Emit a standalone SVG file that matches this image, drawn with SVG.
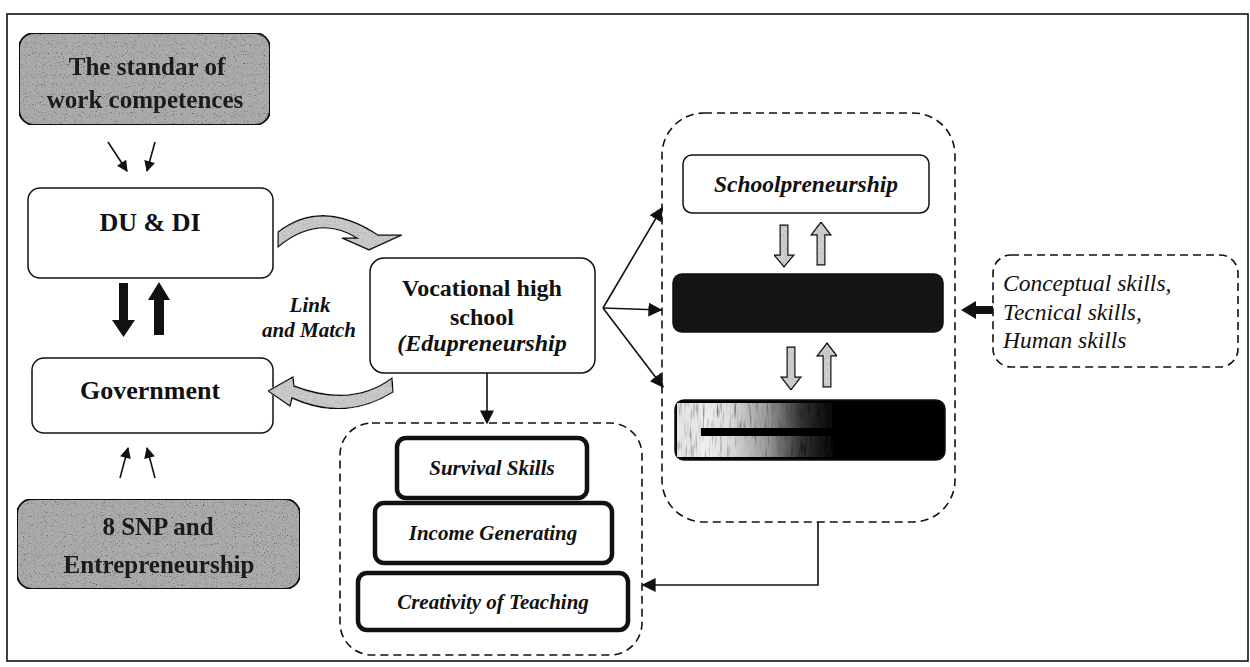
<svg xmlns="http://www.w3.org/2000/svg" width="1250" height="667" viewBox="0 0 1250 667">
  <style>
    .box { fill: #ffffff; stroke: #111; stroke-width: 1.5; }
    .thick { fill: #ffffff; stroke: #111; stroke-width: 4.5; }
    .dash { fill: none; stroke: #111; stroke-width: 1.6; stroke-dasharray: 8 5; }
    .lbl { font-family: "Liberation Serif", "Times New Roman", serif; fill: #111; text-anchor: middle; }
    .start { text-anchor: start; }
    .b { font-weight: bold; }
    .bi { font-weight: bold; font-style: italic; }
    .i { font-style: italic; }
    .conn { fill: none; stroke: #111; stroke-width: 1.6; }
    .solid { fill: #111; stroke: none; }
    .hollow { fill: #d2d2d2; stroke: #111; stroke-width: 1.4; }
    .curve { fill: #cdcdcd; stroke: #111; stroke-width: 1.4; }
    .shade { fill: #ababab; stroke: #111; stroke-width: 2; }
    .shadetext { fill: #1a1a1a; }
  </style>
  <defs>
    <marker id="tri" viewBox="0 0 10 10" refX="9" refY="5" markerWidth="12" markerHeight="11" markerUnits="userSpaceOnUse" orient="auto">
      <path d="M0,0 L10,5 L0,10 Z" fill="#111"/>
    </marker>
    <marker id="triL" viewBox="0 0 10 10" refX="9" refY="5" markerWidth="14" markerHeight="14" markerUnits="userSpaceOnUse" orient="auto">
      <path d="M0,0 L10,5 L0,10 Z" fill="#111"/>
    </marker>
    <!-- heavy speckle for the shaded boxes -->
    <filter id="grain" x="0" y="0" width="100%" height="100%">
      <feTurbulence type="fractalNoise" baseFrequency="0.9" numOctaves="2" seed="4" result="t"/>
      <feColorMatrix in="t" type="matrix" values="0.33 0.33 0.33 0 0  0.33 0.33 0.33 0 0  0.33 0.33 0.33 0 0  0 0 0 0 1" result="g"/>
      <feComponentTransfer in="g" result="c">
        <feFuncR type="linear" slope="3.8" intercept="-0.75"/>
        <feFuncG type="linear" slope="3.8" intercept="-0.75"/>
        <feFuncB type="linear" slope="3.8" intercept="-0.75"/>
      </feComponentTransfer>
      <feComposite in="c" in2="SourceAlpha" operator="in" result="m"/>
      <feBlend in="m" in2="SourceGraphic" mode="multiply"/>
    </filter>
    <!-- light stipple for the grey arrows -->
    <filter id="stipple" x="0" y="0" width="100%" height="100%">
      <feTurbulence type="fractalNoise" baseFrequency="1.1" numOctaves="1" seed="9" result="t"/>
      <feColorMatrix in="t" type="matrix" values="0.33 0.33 0.33 0 0  0.33 0.33 0.33 0 0  0.33 0.33 0.33 0 0  0 0 0 0 1" result="g"/>
      <feComponentTransfer in="g" result="c">
        <feFuncR type="linear" slope="1.6" intercept="0.15"/>
        <feFuncG type="linear" slope="1.6" intercept="0.15"/>
        <feFuncB type="linear" slope="1.6" intercept="0.15"/>
      </feComponentTransfer>
      <feComposite in="c" in2="SourceAlpha" operator="in" result="m"/>
      <feBlend in="m" in2="SourceGraphic" mode="multiply"/>
    </filter>
    <!-- vertical streak texture -->
    <filter id="streak" x="0" y="0" width="100%" height="100%">
      <feTurbulence type="fractalNoise" baseFrequency="0.4 0.05" numOctaves="2" seed="7" result="t"/>
      <feColorMatrix in="t" type="matrix" values="0.33 0.33 0.33 0 0  0.33 0.33 0.33 0 0  0.33 0.33 0.33 0 0  0 0 0 0 1" result="g"/>
      <feComponentTransfer in="g" result="c">
        <feFuncR type="linear" slope="3.4" intercept="-0.7"/>
        <feFuncG type="linear" slope="3.4" intercept="-0.7"/>
        <feFuncB type="linear" slope="3.4" intercept="-0.7"/>
      </feComponentTransfer>
      <feComposite in="c" in2="SourceAlpha" operator="in" result="m"/>
      <feBlend in="m" in2="SourceGraphic" mode="multiply"/>
    </filter>
    <filter id="soft" x="-5%" y="-20%" width="110%" height="140%">
      <feGaussianBlur stdDeviation="0.7"/>
    </filter>
    <linearGradient id="fade" x1="0" y1="0" x2="1" y2="0">
      <stop offset="0" stop-color="#ffffff"/>
      <stop offset="0.25" stop-color="#e0e0e0"/>
      <stop offset="0.45" stop-color="#9a9a9a"/>
      <stop offset="0.62" stop-color="#333"/>
      <stop offset="0.8" stop-color="#000"/>
      <stop offset="1" stop-color="#000"/>
    </linearGradient>
  </defs>

  <rect width="1250" height="667" fill="#ffffff"/>
  <!-- outer frame -->
  <rect x="7" y="14" width="1241" height="647" fill="none" stroke="#111" stroke-width="1.6"/>

  <!-- nodes -->
  <g id="n-standard">
    <g filter="url(#grain)">
      <rect class="shade" x="19" y="33" width="251" height="92" rx="15"/>
      <g filter="url(#soft)">
        <text class="lbl b shadetext" x="147" y="75" font-size="25">The standar of</text>
        <text class="lbl b shadetext" x="145" y="108" font-size="25">work competences</text>
      </g>
    </g>
  </g>

  <g id="n-dudi">
    <rect class="box" x="28" y="188" width="245" height="90" rx="12"/>
    <text class="lbl b" x="150" y="231" font-size="26">DU &amp; DI</text>
  </g>

  <g id="n-government">
    <rect class="box" x="32" y="358" width="241" height="75" rx="12"/>
    <text class="lbl b" x="150" y="399" font-size="26">Government</text>
  </g>

  <g id="n-snp">
    <g filter="url(#grain)">
      <rect class="shade" x="17" y="499" width="283" height="90" rx="15"/>
      <g filter="url(#soft)">
        <text class="lbl b shadetext" x="158" y="535" font-size="25">8 SNP and</text>
        <text class="lbl b shadetext" x="159" y="573" font-size="25">Entrepreneurship</text>
      </g>
    </g>
  </g>

  <g id="n-linkmatch">
    <text class="lbl bi" x="310" y="312" font-size="21">Link</text>
    <text class="lbl bi" x="309" y="337" font-size="21">and Match</text>
  </g>

  <g id="n-vocational">
    <rect class="box" x="370" y="258" width="225" height="115" rx="14"/>
    <text class="lbl b" x="482" y="296" font-size="24">Vocational high</text>
    <text class="lbl b" x="482" y="325" font-size="24">school</text>
    <text class="lbl bi" x="482" y="351" font-size="24">(Edupreneurship</text>
  </g>

  <g id="n-skills">
    <rect class="dash" x="340" y="423" width="302" height="232" rx="32"/>
    <rect class="thick" x="397" y="438" width="190" height="60" rx="9"/>
    <text class="lbl bi" x="492" y="475" font-size="21">Survival Skills</text>
    <rect class="thick" x="375" y="503" width="237" height="60" rx="9"/>
    <text class="lbl bi" x="493" y="540" font-size="21">Income Generating</text>
    <rect class="thick" x="358" y="573" width="270" height="57" rx="9"/>
    <text class="lbl bi" x="493" y="609" font-size="21">Creativity of Teaching</text>
  </g>

  <g id="n-schoolgroup">
    <rect class="dash" x="662" y="113" width="293" height="409" rx="42"/>
  </g>

  <g id="n-schoolpreneurship">
    <rect class="box" x="683" y="155" width="246" height="58" rx="9"/>
    <text class="lbl bi" x="806" y="192" font-size="23.5">Schoolpreneurship</text>
  </g>

  <g id="n-dark1">
    <rect x="673" y="274" width="270" height="58" rx="9" fill="#080808" stroke="#111" stroke-width="1.5"/>
    <rect x="674" y="275" width="268" height="56" rx="8" fill="#8a8a8a" opacity="0.1" filter="url(#grain)"/>
  </g>

  <g id="n-dark2">
    <rect x="675" y="400" width="270" height="60" rx="9" fill="#000" stroke="#111" stroke-width="1.5"/>
    <rect x="677" y="403" width="200" height="25" fill="url(#fade)" filter="url(#streak)"/>
    <rect x="677" y="436" width="200" height="21" fill="url(#fade)" filter="url(#streak)"/>
    <rect x="677" y="403" width="24" height="54" fill="#e6e6e6" filter="url(#streak)"/>
  </g>

  <g id="n-conceptual">
    <rect class="dash" x="993" y="255" width="245" height="112" rx="18"/>
    <text class="lbl i start" x="1003" y="291" font-size="23.5">Conceptual skills,</text>
    <text class="lbl i start" x="1003" y="320" font-size="23.5">Tecnical skills,</text>
    <text class="lbl i start" x="1003" y="348" font-size="23.5">Human skills</text>
  </g>

  <!-- connectors -->
  <g id="connectors">
    <!-- inputs into DU & DI and Government -->
    <line class="conn" x1="108" y1="142" x2="127" y2="171" marker-end="url(#tri)"/>
    <line class="conn" x1="155" y1="142" x2="147" y2="171" marker-end="url(#tri)"/>
    <line class="conn" x1="120" y1="478" x2="128" y2="448" marker-end="url(#tri)"/>
    <line class="conn" x1="155" y1="478" x2="147" y2="448" marker-end="url(#tri)"/>

    <!-- solid block arrows between DU & DI and Government -->
    <path class="solid" d="M119,283 H128 V320 H135 L123.5,337 L112,320 H119 Z"/>
    <path class="solid" d="M154,335 H164 V300 H170 L159,282 L148,300 H154 Z"/>

    <!-- curved link-and-match arrows -->
    <g filter="url(#stipple)">
      <path class="curve" d="M278,247 L278,232 Q322,198 378,235 L402,235 L369,250 L342,238 L357,238 Q318,214 278,247 Z"/>
      <path class="curve" d="M392,378 Q352,408 294,386 L293,377 L268,391 L290,406 L292,398 Q345,422 393,392 Z"/>
    </g>

    <!-- vocational school outputs -->
    <line class="conn" x1="487" y1="373" x2="487" y2="423" marker-end="url(#triL)"/>
    <line class="conn" x1="603" y1="308" x2="662" y2="208" marker-end="url(#triL)"/>
    <line class="conn" x1="603" y1="308" x2="661" y2="310" marker-end="url(#triL)"/>
    <line class="conn" x1="603" y1="308" x2="663" y2="387" marker-end="url(#triL)"/>

    <!-- feedback from the school group to the skills group -->
    <polyline class="conn" points="818,522 818,585 643,585" marker-end="url(#triL)"/>

    <!-- hollow arrows inside the school group -->
    <g filter="url(#stipple)">
      <path class="hollow" d="M780,225 H788 V255 H794 L784,267 L774,255 H780 Z"/>
      <path class="hollow" d="M817,265 H825 V235 H831 L821,222 L811,235 H817 Z"/>
      <path class="hollow" d="M787,347 H795 V377 H801 L791,390 L781,377 H787 Z"/>
      <path class="hollow" d="M823,387 H831 V356 H837 L827,343 L817,356 H823 Z"/>
    </g>

    <!-- skills into the school group -->
    <path class="solid" d="M993,306 V314 H976 V319 L961,310 L976,301 V306 Z"/>
  </g>
</svg>
